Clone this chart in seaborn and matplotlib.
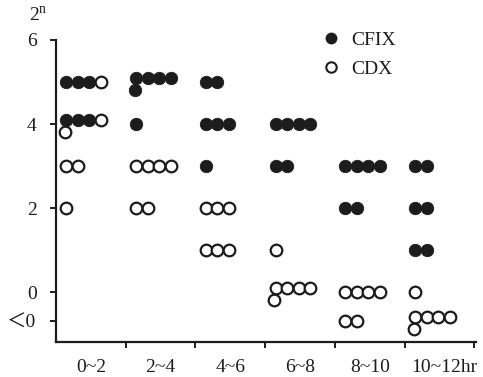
import numpy as np
import pandas as pd
import matplotlib
matplotlib.use("Agg")
import matplotlib.pyplot as plt
import seaborn as sns
from matplotlib.lines import Line2D

# ---- data (counts of strains at each log2 MIC level, per time interval) ----
groups = ["0~2", "2~4", "4~6", "6~8", "8~10", "10~12hr"]
levels = [5, 4, 3, 2, 1, 0, "<0"]
level_pos = [5, 4, 3, 2, 1, 0, -0.69]

cfix_counts = [
    [3, 3, 0, 0, 0, 0, 0],
    [5, 1, 0, 0, 0, 0, 0],
    [2, 3, 1, 0, 0, 0, 0],
    [0, 4, 2, 0, 0, 0, 0],
    [0, 0, 4, 2, 0, 0, 0],
    [0, 0, 2, 2, 2, 0, 0],
]
cdx_counts = [
    [1, 2, 2, 1, 0, 0, 0],
    [0, 0, 4, 2, 0, 0, 0],
    [0, 0, 0, 3, 3, 0, 0],
    [0, 0, 0, 0, 1, 5, 0],
    [0, 0, 0, 0, 0, 4, 2],
    [0, 0, 0, 0, 0, 1, 5],
]
ytick_vals = [6, 4, 2, 0, -0.69]
ytick_labels = ["6", "4", "2", "0", "＜0"]

# ---- build dot-plot layout from counts ----
rows = []
for g, name in enumerate(groups):
    for li, lp in enumerate(level_pos):
        drugs = ["CFIX"] * cfix_counts[g][li] + ["CDX"] * cdx_counts[g][li]
        n = len(drugs)
        for k, d in enumerate(drugs):
            if k < 4:
                x = 2 * g + 0.30 + 0.33 * k
                y = lp + (0.09 if n > 4 else 0)
            else:
                x = 2 * g + 0.26 + 0.33 * (k - 4)
                y = lp - 0.18
            rows.append({"x": x, "y": y, "drug": d})
df = pd.DataFrame(rows)

sns.set_theme(style="white")
plt.rcParams["font.family"] = ["Liberation Serif", "Noto Sans CJK JP", "DejaVu Serif"]

fig = plt.figure(figsize=(4.83, 3.77), dpi=100)
ax = fig.add_axes([56 / 483, 1 - 342 / 377, 420 / 483, 302 / 377])

col = "#1c1c1c"
sns.scatterplot(data=df[df.drug == "CFIX"], x="x", y="y", ax=ax, s=80,
                color=col, edgecolor=col, linewidth=0.6, legend=False, zorder=3)
sns.scatterplot(data=df[df.drug == "CDX"], x="x", y="y", ax=ax, s=70,
                facecolor="white", edgecolor=col, linewidth=1.6, legend=False, zorder=3)

ax.set_xlim(0, 12.05)
ax.set_ylim(-1.19, 6)
ax.set_xlabel("")
ax.set_ylabel("")

for s in ["top", "right"]:
    ax.spines[s].set_visible(False)
for s in ["left", "bottom"]:
    ax.spines[s].set_color(col)
    ax.spines[s].set_linewidth(1.6)

ax.set_yticks(ytick_vals)
ax.set_yticklabels(ytick_labels, fontsize=14, color=col)
ax.set_xticks([2, 4, 6, 8, 10, 12])
ax.set_xticklabels([])
ax.set_xticks([1, 3, 5, 7, 9, 11.15], minor=True)
ax.set_xticklabels(groups, minor=True, fontsize=14, color=col)
ax.tick_params(axis="both", which="major", direction="out", length=4,
               width=1.4, color=col, pad=10, left=True, bottom=True)
ax.tick_params(axis="x", which="minor", length=0, pad=12, bottom=True)
ax.tick_params(axis="y", pad=10)

fig.text(29 / 483, 1 - 16 / 377, "2$^{\\mathregular{n}}$", fontsize=14,
         color=col, ha="left", va="center")

handles = [
    Line2D([], [], marker="o", linestyle="none", markersize=7.5,
           markerfacecolor=col, markeredgecolor=col, label="CFIX"),
    Line2D([], [], marker="o", linestyle="none", markersize=7.5,
           markerfacecolor="white", markeredgecolor=col, markeredgewidth=1.5,
           label="CDX"),
]
ax.legend(handles=handles, loc="upper left",
          bbox_to_anchor=(321 / 483, 1 - 31 / 377), bbox_transform=fig.transFigure,
          frameon=False, fontsize=14, handlelength=1.0, handletextpad=0.55,
          labelspacing=0.6, borderpad=0, borderaxespad=0, labelcolor=col)

fig.savefig("out.png", dpi=100, facecolor="white")
